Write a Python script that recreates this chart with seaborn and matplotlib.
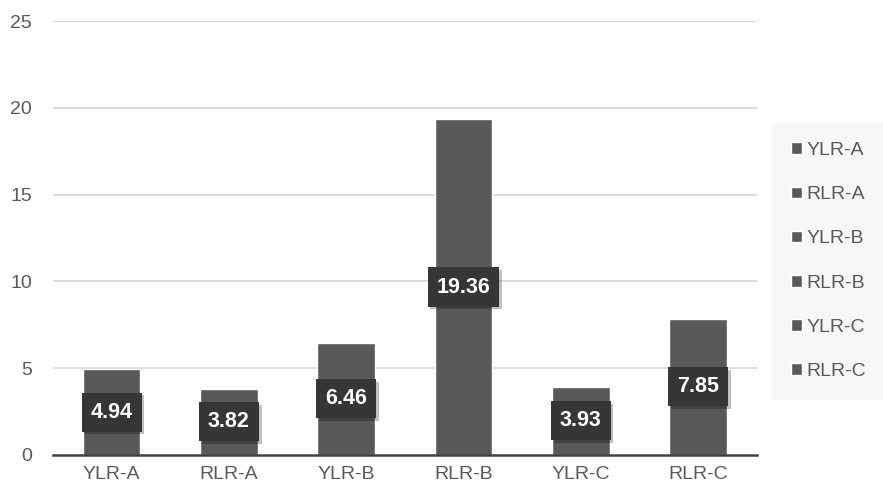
import matplotlib
matplotlib.use("Agg")
import matplotlib.pyplot as plt
import matplotlib.patheffects as pe
import seaborn as sns
import pandas as pd
import numpy as np

categories = ["YLR-A", "RLR-A", "YLR-B", "RLR-B", "YLR-C", "RLR-C"]
values = [4.94, 3.82, 6.46, 19.36, 3.93, 7.85]
yticks = [0, 5, 10, 15, 20, 25]

bar_color = "#595959"
text_color = "#595959"

sns.set_theme(style="white")
plt.rcParams["font.family"] = ["Liberation Sans", "DejaVu Sans"]

df = pd.DataFrame({"group": categories, "value": values})

fig = plt.figure(figsize=(8.83, 4.94), dpi=100)
ax = fig.add_axes([0.060, 0.079, 0.797, 0.878])

sns.barplot(data=df, x="group", y="value", hue="group",
            palette=[bar_color] * len(categories), width=0.49,
            dodge=False, legend=True, saturation=1, ax=ax)

ax.set_ylim(0, 25)
ax.set_xlim(-0.5, len(categories) - 0.5)
ax.set_yticks(yticks)
ax.set_xlabel("")
ax.set_ylabel("")

# gridlines
for y in yticks[1:]:
    ax.axhline(y, color="#d9d9d9", lw=1.3, zorder=0)

for s in ["left", "right", "top"]:
    ax.spines[s].set_visible(False)
ax.spines["bottom"].set_color("#3f3f3f")
ax.spines["bottom"].set_linewidth(1.8)

ax.tick_params(axis="y", length=0, labelsize=14, labelcolor=text_color, pad=15)
ax.tick_params(axis="x", which="major", length=0, labelsize=14,
               labelcolor=text_color, pad=8)
ax.set_xticks(np.arange(-0.5, len(categories)), minor=True)
ax.tick_params(axis="x", which="minor", length=5, width=1.8,
               color="#3f3f3f", direction="out")

# value labels centred in the bars
for cont in ax.containers:
    labels = ax.bar_label(cont, fmt="%.2f", label_type="center", color="white",
                          fontsize=15.5, fontweight="bold",
                          bbox=dict(boxstyle="square,pad=0.42", fc="#363636",
                                    ec="none"))
    for lab in labels:
        lab.get_bbox_patch().set_path_effects(
            [pe.withSimplePatchShadow(offset=(2, -2), shadow_rgbFace="black",
                                      alpha=0.25)])

leg = ax.legend(loc="center left", bbox_to_anchor=(1.03, 0.447),
                frameon=True, fontsize=14, labelcolor=text_color,
                handlelength=0.55, handleheight=0.55, handletextpad=0.2,
                labelspacing=1.4, borderpad=0.7, borderaxespad=0)
leg.get_frame().set_facecolor("#f6f6f6")
leg.get_frame().set_edgecolor("none")
leg.get_frame().set_boxstyle("square")

fig.savefig("out.png", dpi=100, facecolor="white")
